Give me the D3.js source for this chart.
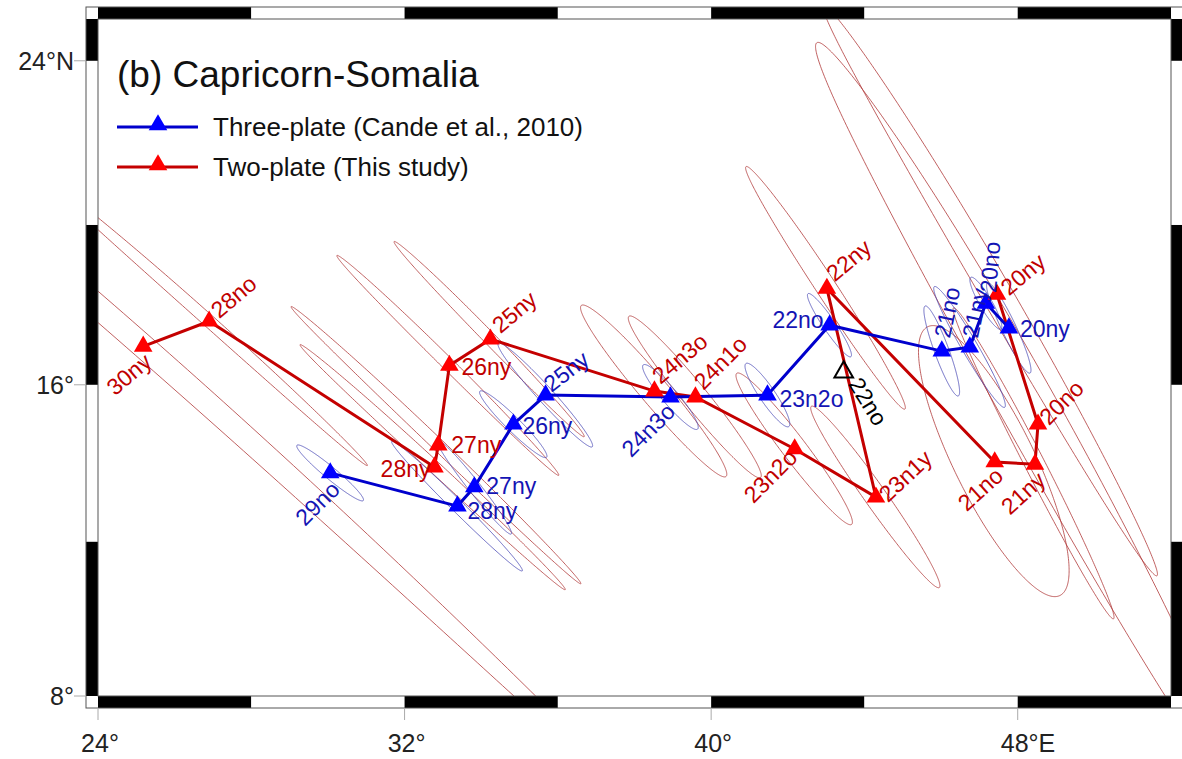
<!DOCTYPE html>
<html>
<head>
<meta charset="utf-8">
<script src="https://cdn.jsdelivr.net/npm/d3@7/dist/d3.min.js"></script>
<style>
  body { margin: 0; background: #fff; }
  svg { display: block; font-family: Arial, "Liberation Sans", sans-serif; }
</style>
</head>
<body>
<div id="chart"></div>
<script>
// ---- data ----
// Two-plate (this study), red
const twoPlateNames = ["30ny","28no","28ny","27ny","26ny","25ny","24n3o","24n1o","23n2o","23n1y","22ny","21no","21ny","20no","20ny"];
const twoPlateLon   = [25.18, 26.90, 32.78, 32.88, 33.17, 34.24, 38.52, 39.59, 42.18, 44.30, 43.02, 47.40, 48.45, 48.53, 47.46];
const twoPlateLat   = [16.97, 17.60, 13.91, 14.47, 16.49, 17.15, 15.84, 15.69, 14.37, 13.14, 18.42, 14.04, 13.98, 15.00, 18.27];
// error ellipses: semi-major / semi-minor (km), azimuth of major axis (deg from N)
const twoPlateMajor = [1950, 600, 510, 565, 436, 379, 314, 292, 268, 315, 401, 424, 495, 1210, 913];
const twoPlateMinor = [33, 17, 17, 17, 17, 17, 39, 34, 34, 31, 28, 113, 28, 79, 42];
const twoPlateAzim  = [131.5, 132, 133, 134, 135, 136, 140, 141, 143, 145, 147, 154, 153, 151, 150];

// Three-plate (Cande et al., 2010), blue
const threePlateNames = ["29no","28ny","27ny","26ny","25ny","24n3o","23n2o","22no","21no","21ny","20no","20ny"];
const threePlateLon   = [30.06, 33.38, 33.82, 34.84, 35.68, 38.94, 41.47, 43.09, 46.02, 46.75, 47.17, 47.77];
const threePlateLat   = [13.76, 12.91, 13.40, 15.00, 15.74, 15.69, 15.74, 17.50, 16.85, 16.95, 18.05, 17.43];
const threePlateMajor = [122, 261, 170, 132, 196, 118, 107, 106, 134, 195, 83, 139];
const threePlateMinor = [17, 17, 17, 20, 22, 22, 22, 17, 20, 22, 17, 20];
const threePlateAzim  = [130, 135, 142, 135, 138, 140, 146, 146, 160, 150, 150, 155];

// single extra pole (open black triangle)
const extraName = "22no";
const extraLon = 43.46;
const extraLat = 16.32;

const lonTicks = [24, 32, 40, 48];
const lonTickLabels = ["24°", "32°", "40°", "48°"];
const latTicks = [8, 16, 24];
const latTickLabels = ["8°", "16°", "24°"];
const lonFrame = [24, 52];
const latFrame = [8, 25];

// ---- label placement (style) ----
const redLabelPos = {
  "30ny": [10, 18, -40, "end"], "28no": [10, -2, -40, "start"], "28ny": [-4, 10, 0, "end"],
  "27ny": [13, 8, 0, "start"], "26ny": [12, 10, 0, "start"], "25ny": [10, -5, -40, "start"],
  "24n3o": [6, -6, -40, "start"], "24n1o": [8, -6, -45, "start"], "23n2o": [4, 10, -45, "end"],
  "23n1y": [12, 6, -43, "start"], "22ny": [8, -6, -40, "start"], "21no": [10, 16, -42, "end"],
  "21ny": [12, 18, -42, "end"], "20no": [11, 2, -45, "start"], "20ny": [12, 2, -40, "start"]
};
const blueLabelPos = {
  "29no": [11, 18, -45, "end"], "28ny": [10, 13, 0, "start"], "27ny": [12, 7, 0, "start"],
  "26ny": [9, 10, 0, "start"], "25ny": [6, -2, -38, "start"], "24n3o": [6, 16, -45, "end"],
  "23n2o": [12, 12, 0, "start"], "22no": [-6, 3, 0, "end"], "21no": [8, -12, -78, "start"],
  "21ny": [8, -8, -78, "start"], "20no": [10, -10, -85, "start"], "20ny": [11, 9, 0, "start"]
};

const W = 1182, H = 759;
const svg = d3.select("#chart").append("svg").attr("width", W).attr("height", H);

const mLeft = 98, mRight = 1171, mTop = 19, mBottom = 696, band = 12;

const merc = lat => Math.log(Math.tan(Math.PI / 4 + lat * Math.PI / 360));
const x = d3.scaleLinear().domain(lonFrame).range([mLeft, mRight]);
const yM = d3.scaleLinear().domain(latFrame.map(merc)).range([mBottom, mTop]);
const y = lat => yM(merc(lat));

// point at given bearing and distance on the sphere
function destination(lon, lat, brg, km) {
  const R = 6371, d = km / R, b = brg * Math.PI / 180;
  const p1 = lat * Math.PI / 180, l1 = lon * Math.PI / 180;
  const p2 = Math.asin(Math.sin(p1) * Math.cos(d) + Math.cos(p1) * Math.sin(d) * Math.cos(b));
  const l2 = l1 + Math.atan2(Math.sin(b) * Math.sin(d) * Math.cos(p1), Math.cos(d) - Math.sin(p1) * Math.sin(p2));
  return [l2 * 180 / Math.PI, p2 * 180 / Math.PI];
}
function ellipse(lon, lat, a, b, az) {
  const pts = [], r = az * Math.PI / 180;
  for (let t = 0; t < 360; t += 1) {
    const c = Math.cos(t * Math.PI / 180), s = Math.sin(t * Math.PI / 180);
    const east = a * c * Math.sin(r) + b * s * Math.cos(r);
    const north = a * c * Math.cos(r) - b * s * Math.sin(r);
    pts.push(destination(lon, lat, Math.atan2(east, north) * 180 / Math.PI, Math.hypot(east, north)));
  }
  return pts;
}

svg.append("clipPath").attr("id", "mapclip")
  .append("rect").attr("x", mLeft).attr("y", mTop).attr("width", mRight - mLeft).attr("height", mBottom - mTop);

const lineGeo = d3.line().x(d => x(d[0])).y(d => y(d[1]));
const closedGeo = d3.line().x(d => x(d[0])).y(d => y(d[1])).curve(d3.curveLinearClosed);

const plot = svg.append("g").attr("clip-path", "url(#mapclip)");

// ellipses
const red = twoPlateNames.map((n, i) => ({name: n, lon: twoPlateLon[i], lat: twoPlateLat[i],
  a: twoPlateMajor[i], b: twoPlateMinor[i], az: twoPlateAzim[i]}));
const blue = threePlateNames.map((n, i) => ({name: n, lon: threePlateLon[i], lat: threePlateLat[i],
  a: threePlateMajor[i], b: threePlateMinor[i], az: threePlateAzim[i]}));

plot.selectAll(".ell-red").data(red).enter().append("path")
  .attr("class", "ell-red")
  .attr("d", d => closedGeo(ellipse(d.lon, d.lat, d.a, d.b, d.az)))
  .attr("fill", "none").attr("stroke", "#b03838").attr("stroke-width", 0.8);
plot.selectAll(".ell-blue").data(blue).enter().append("path")
  .attr("class", "ell-blue")
  .attr("d", d => closedGeo(ellipse(d.lon, d.lat, d.a, d.b, d.az)))
  .attr("fill", "none").attr("stroke", "#4646b4").attr("stroke-width", 0.8);

// tracks
plot.append("path").datum(red.map(d => [d.lon, d.lat]))
  .attr("d", lineGeo).attr("fill", "none").attr("stroke", "#c40000").attr("stroke-width", 3);
plot.append("path").datum(blue.map(d => [d.lon, d.lat]))
  .attr("d", lineGeo).attr("fill", "none").attr("stroke", "#0000cc").attr("stroke-width", 3);

const tri = d3.symbol().type(d3.symbolTriangle).size(150);
plot.selectAll(".tri-blue").data(blue).enter().append("path")
  .attr("transform", d => `translate(${x(d.lon)},${y(d.lat)})`)
  .attr("d", tri).attr("fill", "#0000ff");
plot.selectAll(".tri-red").data(red).enter().append("path")
  .attr("transform", d => `translate(${x(d.lon)},${y(d.lat)})`)
  .attr("d", tri).attr("fill", "#ff0000");
plot.append("path")
  .attr("transform", `translate(${x(extraLon)},${y(extraLat)})`)
  .attr("d", tri).attr("fill", "none").attr("stroke", "#000").attr("stroke-width", 2);

// labels
function labels(data, pos, color) {
  svg.append("g").selectAll("text").data(data).enter().append("text")
    .attr("transform", d => {
      const p = pos[d.name];
      return `translate(${x(d.lon) + p[0]},${y(d.lat) + p[1]}) rotate(${p[2]})`;
    })
    .attr("text-anchor", d => pos[d.name][3])
    .attr("font-size", 23).attr("fill", color).text(d => d.name);
}
labels(red, redLabelPos, "#c00000");
labels(blue, blueLabelPos, "#1414b4");
svg.append("text")
  .attr("transform", `translate(${x(extraLon) + 4},${y(extraLat) + 12}) rotate(58)`)
  .attr("font-size", 23).attr("fill", "#000").text(extraName);

// ---- fancy frame ----
const frame = svg.append("g");
const lonSegs = d3.range(lonFrame[0], lonFrame[1], 4);
lonSegs.forEach((lo, i) => {
  const hi = Math.min(lo + 4, lonFrame[1]);
  [mTop - band, mBottom].forEach(yy => {
    frame.append("rect").attr("x", x(lo)).attr("y", yy).attr("width", x(hi) - x(lo)).attr("height", band)
      .attr("fill", i % 2 === 0 ? "#000" : "#fff");
  });
});
const latSegs = d3.range(latFrame[0], latFrame[1], 4);
latSegs.forEach((lo, i) => {
  const hi = Math.min(lo + 4, latFrame[1]);
  [mLeft - band, mRight].forEach(xx => {
    frame.append("rect").attr("x", xx).attr("y", y(hi)).attr("width", band).attr("height", y(lo) - y(hi))
      .attr("fill", i % 2 === 0 ? "#000" : "#fff");
  });
});
frame.append("rect").attr("x", mLeft - band).attr("y", mTop - band)
  .attr("width", mRight - mLeft + 2 * band).attr("height", mBottom - mTop + 2 * band)
  .attr("fill", "none").attr("stroke", "#555").attr("stroke-width", 1);
frame.append("rect").attr("x", mLeft).attr("y", mTop)
  .attr("width", mRight - mLeft).attr("height", mBottom - mTop)
  .attr("fill", "none").attr("stroke", "#555").attr("stroke-width", 1);

// ticks and tick labels
const axes = svg.append("g").attr("fill", "#222").attr("font-size", 25);
lonTicks.forEach((lon, i) => {
  axes.append("line").attr("x1", x(lon)).attr("x2", x(lon)).attr("y1", mBottom + band).attr("y2", mBottom + band + 12)
    .attr("stroke", "#aaa").attr("stroke-width", 1);
  const t = axes.append("text").attr("y", 752).text(lonTickLabels[i]);
  const w = t.node().getComputedTextLength();
  t.attr("x", x(lon) - w / 2 + 2);
  if (i === lonTicks.length - 1) t.append("tspan").text("E");
});
latTicks.forEach((lat, i) => {
  axes.append("line").attr("x1", mLeft - band - 12).attr("x2", mLeft - band).attr("y1", y(lat)).attr("y2", y(lat))
    .attr("stroke", "#aaa").attr("stroke-width", 1);
  axes.append("text").attr("x", 74).attr("y", y(lat) + 9).attr("text-anchor", "end")
    .text(latTickLabels[i] + (i === latTicks.length - 1 ? "N" : ""));
});

// title and legend
svg.append("text").attr("x", 117).attr("y", 87).attr("font-size", 37).attr("fill", "#111")
  .text("(b) Capricorn-Somalia");
const legend = [
  {label: "Three-plate (Cande et al., 2010)", line: "#0000cc", mark: "#0000ff"},
  {label: "Two-plate (This study)", line: "#c40000", mark: "#ff0000"}
];
legend.forEach((d, i) => {
  const ly = 127 + i * 40;
  svg.append("line").attr("x1", 117).attr("x2", 198).attr("y1", ly).attr("y2", ly)
    .attr("stroke", d.line).attr("stroke-width", 3);
  svg.append("path").attr("transform", `translate(158,${ly - 2})`).attr("d", tri).attr("fill", d.mark);
  svg.append("text").attr("x", 213).attr("y", ly + 9).attr("font-size", 26).attr("fill", "#111").text(d.label);
});
</script>
</body>
</html>
